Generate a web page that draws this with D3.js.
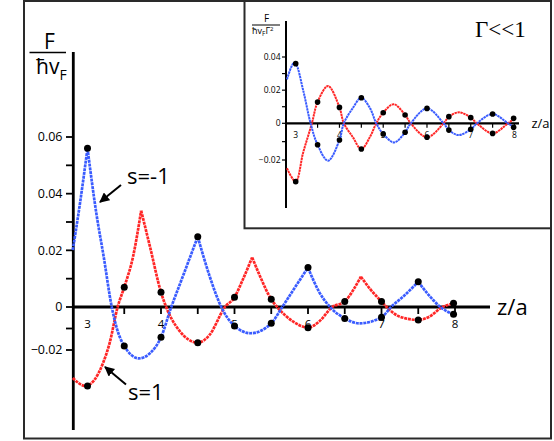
<!DOCTYPE html>
<html>
<head>
<meta charset="utf-8">
<script src="https://cdn.jsdelivr.net/npm/d3@7"></script>
<style>
  body { margin: 0; background: #fff; }
  text { font-family: "Open Sans", "DejaVu Sans", sans-serif; }
</style>
</head>
<body>
<div id="chart"></div>
<script>
// main panel: force between plates, two spin cases (cusped curves)
const mainBlue = [[2.8,0.0201],[2.9,0.037],[3.0,0.056],[3.12,0.0331],[3.22,0.0178],[3.33,0],[3.42,-0.0122],
  [3.5,-0.0181],[3.7,-0.0239],[3.85,-0.0215],[4.0,-0.0141],[4.14,0],[4.3,0.011],[4.5,0.0248],[4.66,0.011],
  [4.82,0],[5.0,-0.0088],[5.22,-0.0122],[5.5,-0.0076],[5.65,0],[5.83,0.0072],[6.0,0.0139],[6.15,0.0054],
  [6.3,0],[6.5,-0.0053],[6.7,-0.0076],[7.0,-0.0048],[7.13,0],[7.3,0.0038],[7.5,0.0089],[7.65,0.004],
  [7.8,0],[7.98,-0.0034]];
const mainRed = [[2.8,-0.033],[2.97,-0.0367],[3.21,-0.0262],[3.3,-0.0169],[3.41,0],[3.5,0.007],[3.62,0.0178],
  [3.73,0.034],[3.85,0.0213],[4.0,0.0052],[4.07,0],[4.25,-0.011],[4.5,-0.0166],[4.66,-0.013],[4.87,0],
  [5.0,0.0034],[5.1,0.0089],[5.24,0.0175],[5.35,0.0107],[5.5,0.0027],[5.58,0],[5.8,-0.0068],[6.0,-0.0096],
  [6.15,-0.0068],[6.33,0],[6.5,0.0019],[6.62,0.0062],[6.72,0.0107],[6.85,0.0062],[7.0,0.0019],[7.07,0],
  [7.25,-0.0045],[7.5,-0.006],[7.65,-0.0045],[7.83,0],[8.0,0.0013]];

const dotZ = [3,3.5,4,4.5,5,5.5,6,6.5,7,7.5,7.98];
const mainBlueDots = [0.056,-0.0181,-0.0141,0.0248,-0.0088,-0.0076,0.0139,-0.0053,-0.0048,0.0089,-0.0034];
const mainRedDots = [-0.0367,0.007,0.0052,-0.0166,0.0034,0.0027,-0.0096,0.0019,0.0019,-0.006,0.0013];

// inset: Gamma << 1 (smooth damped oscillations)
const insetBlue = [[2.8,0.0265],[2.95,0.0362],[3.0,0.036],[3.17,0.02],[3.34,0],[3.5,-0.0117],[3.74,-0.0204],
  [4.0,-0.0091],[4.1,0],[4.3,0.009],[4.5,0.0154],[4.7,0.009],[4.84,0],[5.0,-0.0058],[5.25,-0.0104],
  [5.5,-0.0049],[5.63,0],[6.0,0.009],[6.38,0],[6.5,-0.0037],[6.72,-0.0064],[7.0,-0.0033],[7.14,0],
  [7.5,0.0056],[7.85,0],[8.0,-0.0022]];
const insetRed = [[2.8,-0.0245],[3.0,-0.0318],[3.17,-0.016],[3.37,0],[3.5,0.0128],[3.74,0.0225],[4.0,0.0096],
  [4.1,0],[4.3,-0.0073],[4.5,-0.014],[4.7,-0.0073],[4.84,0],[5.0,0.0064],[5.24,0.0115],[5.5,0.005],
  [5.63,0],[6.0,-0.0076],[6.38,0],[6.5,0.004],[6.74,0.0066],[7.0,0.0034],[7.14,0],[7.5,-0.0055],
  [7.85,0],[8.0,0.003]];
const insetBlueDots = [0.036,-0.0117,-0.0091,0.0154,-0.0058,-0.0049,0.009,-0.0037,-0.0033,0.0056,-0.0022];
const insetRedDots = [-0.0318,0.0128,0.0096,-0.014,0.0064,0.005,-0.0076,0.004,0.0034,-0.0055,0.003];

// ticks
const xTickVals = [3.5,4,4.5,5,5.5,6,6.5,7,7.5,8];
const xLabelVals = [3,4,5,6,7,8];
const mainYTicks = [-0.02,-0.01,0,0.01,0.02,0.03,0.04,0.05,0.06];
const mainYLabels = [-0.02,0,0.02,0.04,0.06];
const insetYTicks = [-0.02,-0.01,0,0.01,0.02,0.03,0.04];
const insetYLabels = [-0.02,0,0.02,0.04];

const BLUE = "#3a5cff", RED = "#ff2626";
const width = 554, height = 441;

const svg = d3.select("#chart").append("svg")
  .attr("width", width).attr("height", height);

// frames
svg.append("rect").attr("x", 24).attr("y", 1).attr("width", 527).attr("height", 437.5)
  .attr("fill", "none").attr("stroke", "#2a2a2a").attr("stroke-width", 2);
svg.append("rect").attr("x", 244.5).attr("y", 1).attr("width", 306.5).attr("height", 227.3)
  .attr("fill", "none").attr("stroke", "#2a2a2a").attr("stroke-width", 2);

const fmt = d => d === 0 ? "0" : d3.format(".2f")(d);

// ---------- main panel ----------
const x = d3.scaleLinear().domain([3, 8]).range([87.5, 455]);
const y = d3.scaleLinear().domain([-0.02, 0, 0.06]).range([350, 307, 137]);
const main = svg.append("g");

// y axis
main.append("line").attr("x1", 73.3).attr("x2", 73.3).attr("y1", 52).attr("y2", 430)
  .attr("stroke", "#000").attr("stroke-width", 2.8);
main.selectAll(".ytick").data(mainYTicks).enter().append("line")
  .attr("x1", 66).attr("x2", 73).attr("y1", d => y(d)).attr("y2", d => y(d))
  .attr("stroke", "#000").attr("stroke-width", 1.8);
main.selectAll(".ylab").data(mainYLabels).enter().append("text")
  .attr("x", 62.5).attr("y", d => y(d) + 4.3).attr("text-anchor", "end")
  .attr("font-size", 12.5).text(fmt);

// x axis
main.append("line").attr("x1", 73).attr("x2", 490).attr("y1", y(0)).attr("y2", y(0))
  .attr("stroke", "#000").attr("stroke-width", 3);
main.selectAll(".xtick").data(xTickVals).enter().append("line")
  .attr("x1", d => x(d)).attr("x2", d => x(d)).attr("y1", y(0)).attr("y2", y(0) + 7)
  .attr("stroke", "#000").attr("stroke-width", 1.8);
main.selectAll(".xlab").data(xLabelVals).enter().append("text")
  .attr("x", d => x(d)).attr("y", 327.5).attr("text-anchor", "middle")
  .attr("font-size", 11.5).text(d => d);

// curves: split into arches at the cusps (local maxima)
function arches(pts) {
  const segs = [];
  let cur = [pts[0]];
  for (let i = 1; i < pts.length; i++) {
    cur.push(pts[i]);
    if (i < pts.length - 1 && pts[i][1] > pts[i-1][1] && pts[i][1] > pts[i+1][1]) {
      segs.push(cur);
      cur = [pts[i]];
    }
  }
  segs.push(cur);
  return segs;
}
const mainLine = d3.line().x(d => x(d[0])).y(d => y(d[1])).curve(d3.curveMonotoneX);

[[mainRed, RED], [mainBlue, BLUE]].forEach(([pts, col]) => {
  main.append("path")
    .attr("d", arches(pts).map(s => mainLine(s)).join(""))
    .attr("fill", "none").attr("stroke", col).attr("stroke-width", 2.7)
    .attr("stroke-dasharray", "3,0.8").attr("stroke-linejoin", "miter");
});

[mainBlueDots, mainRedDots].forEach(vals => {
  main.selectAll(null).data(vals).enter().append("circle")
    .attr("cx", (d, i) => x(dotZ[i])).attr("cy", d => y(d)).attr("r", 3.5).attr("fill", "#000");
});

// axis titles
main.append("text").attr("x", 49.5).attr("y", 48.5).attr("text-anchor", "middle")
  .attr("font-size", 21).text("F");
main.append("line").attr("x1", 29.5).attr("x2", 66).attr("y1", 52.5).attr("y2", 52.5)
  .attr("stroke", "#000").attr("stroke-width", 1.7);
const den = main.append("text").attr("x", 36).attr("y", 74).attr("font-size", 21);
den.append("tspan").text("ħv");
den.append("tspan").attr("font-size", 14).attr("dy", 6).text("F");

main.append("text").attr("x", 497).attr("y", 314.5).attr("font-size", 22).text("z/a");

// s labels with arrows
svg.append("defs").append("marker").attr("id", "ah")
  .attr("viewBox", "0 0 10 10").attr("refX", 9).attr("refY", 5)
  .attr("markerWidth", 5).attr("markerHeight", 5).attr("orient", "auto")
  .append("path").attr("d", "M0,0 L10,5 L0,10 z").attr("fill", "#000");
main.append("text").attr("x", 127).attr("y", 183.5).attr("font-size", 22).text("s=-1");
main.append("line").attr("x1", 121).attr("y1", 185).attr("x2", 100).attr("y2", 202)
  .attr("stroke", "#000").attr("stroke-width", 2).attr("marker-end", "url(#ah)");
main.append("text").attr("x", 128).attr("y", 399.5).attr("font-size", 22).text("s=1");
main.append("line").attr("x1", 126).attr("y1", 384.5).attr("x2", 105).attr("y2", 367)
  .attr("stroke", "#000").attr("stroke-width", 2).attr("marker-end", "url(#ah)");

// ---------- inset ----------
const xi = d3.scaleLinear().domain([3, 8]).range([295.7, 514.5]);
const yi = d3.scaleLinear().domain([-0.02, 0, 0.04]).range([160, 123.3, 57]);
const ins = svg.append("g");

ins.append("line").attr("x1", 286).attr("x2", 286).attr("y1", 21).attr("y2", 208)
  .attr("stroke", "#000").attr("stroke-width", 2);
ins.selectAll(null).data(insetYTicks).enter().append("line")
  .attr("x1", 282).attr("x2", 286).attr("y1", d => yi(d)).attr("y2", d => yi(d))
  .attr("stroke", "#000").attr("stroke-width", 1.2);
ins.selectAll(null).data(insetYLabels).enter().append("text")
  .attr("x", 280.5).attr("y", d => yi(d) + 3).attr("text-anchor", "end")
  .attr("font-size", 8.5).text(fmt);

ins.append("line").attr("x1", 286).attr("x2", 519).attr("y1", yi(0)).attr("y2", yi(0))
  .attr("stroke", "#000").attr("stroke-width", 2.2);
ins.selectAll(null).data(xTickVals).enter().append("line")
  .attr("x1", d => xi(d)).attr("x2", d => xi(d)).attr("y1", yi(0)).attr("y2", yi(0) + 4.5)
  .attr("stroke", "#000").attr("stroke-width", 1.2);
ins.selectAll(null).data(xLabelVals).enter().append("text")
  .attr("x", d => xi(d)).attr("y", 138).attr("text-anchor", "middle")
  .attr("font-size", 8.5).text(d => d);

const insLine = d3.line().x(d => xi(d[0])).y(d => yi(d[1])).curve(d3.curveCatmullRom.alpha(0.5));
[[insetRed, RED], [insetBlue, BLUE]].forEach(([pts, col]) => {
  ins.append("path").attr("d", insLine(pts))
    .attr("fill", "none").attr("stroke", col).attr("stroke-width", 2)
    .attr("stroke-dasharray", "2.4,0.6");
});
[insetBlueDots, insetRedDots].forEach(vals => {
  ins.selectAll(null).data(vals).enter().append("circle")
    .attr("cx", (d, i) => xi(dotZ[i])).attr("cy", d => yi(d)).attr("r", 2.8).attr("fill", "#000");
});

ins.append("text").attr("x", 266.5).attr("y", 22).attr("text-anchor", "middle")
  .attr("font-size", 10).text("F");
ins.append("line").attr("x1", 252).attr("x2", 280).attr("y1", 25).attr("y2", 25)
  .attr("stroke", "#000").attr("stroke-width", 1);
const iden = ins.append("text").attr("x", 252).attr("y", 33.5).attr("font-size", 9);
iden.append("tspan").text("ħv");
iden.append("tspan").attr("font-size", 6.5).attr("dy", 2).text("F");
iden.append("tspan").attr("dy", -2).text("Γ");
iden.append("tspan").attr("font-size", 6).attr("dy", -3).text("2");

ins.append("text").attr("x", 531.5).attr("y", 127.5).attr("font-size", 13).text("z/a");
ins.append("text").attr("x", 475).attr("y", 36.7).attr("font-size", 23)
  .style("font-family", "'Liberation Serif', 'DejaVu Serif', serif").text("Γ<<1");
</script>
</body>
</html>
